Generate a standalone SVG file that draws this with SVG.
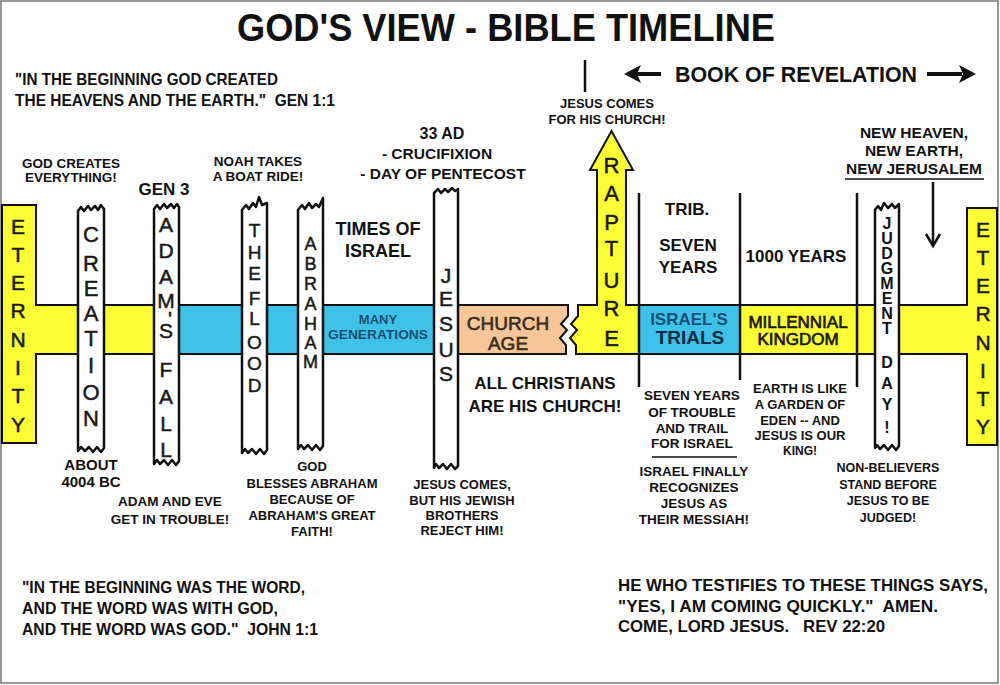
<svg xmlns="http://www.w3.org/2000/svg" width="1000" height="685" viewBox="0 0 1000 685">
<style>
text{font-family:"Liberation Sans",Arial,Helvetica,sans-serif}
.t{font-weight:bold;fill:#111;text-anchor:middle}
.q{font-weight:bold;fill:#111}
.v{font-weight:normal;fill:#1a1a1a;text-anchor:middle;stroke:#1a1a1a;stroke-width:0.5}
.col{fill:#fff;stroke:#111;stroke-width:2.5;stroke-linejoin:round}
.yel{fill:#fdfd36;stroke:#111;stroke-width:2}
.cy{fill:#3fc2ea;stroke:#111;stroke-width:2}
.pe{fill:#f6c698;stroke:#111;stroke-width:2}
.ln{stroke:#111;stroke-width:2.5;fill:none}
.thin{stroke:#111;stroke-width:1.5;fill:none}
</style>
<rect x="1" y="1" width="997" height="682" fill="#fff" stroke="#777" stroke-width="1.5"/>

<g id="title">
<text class="t" x="506" y="41" font-size="39" textLength="538" lengthAdjust="spacingAndGlyphs">GOD'S VIEW - BIBLE TIMELINE</text>
</g>

<g id="band">
<path class="yel" d="M2,205 H36 V305 H166 V354 H36 V443 H2 Z"/>
<rect class="cy" x="166" y="305" width="280" height="49"/>
<path class="pe" d="M446,305 H568 V316 L561,324 L567,330 L560,338 L566,345 V354 H446 Z"/>
<path class="yel" d="M578,305 H597 V170 H590 L611.5,131 L633,170 H626 V305 H639 V354 H576 V345 L570,338 L577,330 L571,324 L578,316 Z"/>
<rect class="cy" x="639" y="305" width="101" height="49"/>
<path class="yel" d="M740,305 H967 V208 H997 V445 H967 V354 H740 Z"/>
</g>

<g id="eternity-left">
<text class="v" font-size="21" x="18 18 18 18 18 18 18 18" y="234 262 290 318 347 375 403 432">ETERNITY</text>
</g>

<g id="creation">
<path class="col" d="M78,451 L78,211 L81,207 L84,211 L88,206 L91,210 L95,206 L98,210 L101,205 L104,209 L104,448 L101,452 L97,447 L93,452 L89,447 L85,451 L81,447 L78,451 Z"/>
<text class="v" font-size="22" x="91 91 91 91 91 91 91 91" y="242 271 296 321 346 373 400 426">CREATION</text>
<text class="t" font-size="13.5" x="71" y="168">GOD CREATES</text>
<text class="t" font-size="13.5" x="71" y="182">EVERYTHING!</text>
<text class="t" font-size="15" x="91" y="470">ABOUT</text>
<text class="t" font-size="15" x="91" y="487">4004 BC</text>
</g>

<g id="adams-fall">
<path class="col" d="M154,464 L154,209 L157,205 L160,209 L164,204 L167,208 L171,204 L174,208 L177,204 L179,207 L179,461 L176,465 L172,460 L168,465 L164,460 L160,464 L157,460 L154,464 Z"/>
<text class="v" font-size="21" x="166 166 166 166 170 166 166 166 166 166" y="232 258 284 308 326 338 377 404 431 457">ADAM'SFALL</text>
<text class="t" font-size="17" x="164" y="195">GEN 3</text>
<text class="t" font-size="13.5" x="170" y="506">ADAM AND EVE</text>
<text class="t" font-size="13.5" x="170" y="524">GET IN TROUBLE!</text>
</g>

<g id="flood">
<path class="col" d="M242,453 L242,210 L246,205 L249,209 L253,203 L256,207 L259,197 L262,205 L267,203 L267,450 L264,454 L260,449 L256,454 L252,449 L248,453 L245,449 L242,453 Z"/>
<text class="v" font-size="19" x="254.5 254.5 254.5 254.5 254.5 254.5 254.5 254.5" y="237 259 280 305 325 349 370 392">THEFLOOD</text>
<text class="t" font-size="13.5" x="258" y="166">NOAH TAKES</text>
<text class="t" font-size="13.5" x="258" y="181">A BOAT RIDE!</text>
</g>

<g id="abraham">
<path class="col" d="M298,449 L298,210 L302,205 L305,209 L309,203 L312,208 L316,204 L319,207 L323,198 L323,446 L320,450 L316,445 L312,450 L308,445 L304,449 L301,445 L298,449 Z"/>
<text class="v" font-size="18" x="310.5 310.5 310.5 310.5 310.5 310.5 310.5" y="250 270 290 310 330 349 368">ABRAHAM</text>
<text class="t" font-size="13" x="312" y="471">GOD</text>
<text class="t" font-size="13" x="312" y="488">BLESSES ABRAHAM</text>
<text class="t" font-size="13" x="312" y="504">BECAUSE OF</text>
<text class="t" font-size="13" x="312" y="520">ABRAHAM'S GREAT</text>
<text class="t" font-size="13" x="312" y="536">FAITH!</text>
</g>

<g id="times-of-israel">
<text class="t" font-size="18" x="378" y="235">TIMES OF</text>
<text class="t" font-size="18" x="378" y="257">ISRAEL</text>
<text class="t" font-size="13" x="378" y="324" style="fill:#1b4f72">MANY</text>
<text class="t" font-size="13" x="378" y="339" style="fill:#1b4f72" textLength="100" lengthAdjust="spacingAndGlyphs">GENERATIONS</text>
</g>

<g id="jesus">
<path class="col" d="M434,468 L434,193 L438,189 L441,193 L445,189 L448,192 L452,188 L455,191 L458,189 L458,466 L455,469 L451,464 L447,469 L443,464 L439,468 L436,464 L434,468 Z"/>
<text class="v" font-size="21" x="446 446 446 446 446" y="283 306 331 357 381">JESUS</text>
<text class="t" font-size="16" x="442" y="139">33 AD</text>
<text class="t" font-size="15.5" x="437" y="159">- CRUCIFIXION</text>
<text class="t" font-size="15.5" x="443" y="179">- DAY OF PENTECOST</text>
<text class="t" font-size="13" x="462" y="489">JESUS COMES,</text>
<text class="t" font-size="13" x="462" y="505">BUT HIS JEWISH</text>
<text class="t" font-size="13" x="462" y="520">BROTHERS</text>
<text class="t" font-size="13" x="462" y="535">REJECT HIM!</text>
</g>

<g id="church-age">
<text class="v" font-size="19" x="508" y="330" style="fill:#3a2e22;stroke:#3a2e22;stroke-width:0.6">CHURCH</text>
<text class="v" font-size="19" x="508" y="350" style="fill:#3a2e22;stroke:#3a2e22;stroke-width:0.6">AGE</text>
<text class="t" font-size="17" x="545" y="389">ALL CHRISTIANS</text>
<text class="t" font-size="17" x="545" y="412">ARE HIS CHURCH!</text>
</g>

<g id="rapture">
<text class="v" font-size="22" x="611.5 611.5 611.5 611.5 611.5 611.5 611.5" y="173 201 230 256 288 316 346">RAPTURE</text>
<text class="t" font-size="13" x="607" y="108">JESUS COMES</text>
<text class="t" font-size="13" x="607" y="124">FOR HIS CHURCH!</text>
</g>

<g id="book-of-revelation">
<text class="t" font-size="22" x="796" y="82" textLength="242" lengthAdjust="spacingAndGlyphs">BOOK OF REVELATION</text>
</g>

<g id="tribulation">
<text class="t" font-size="17" x="687" y="215">TRIB.</text>
<text class="t" font-size="17" x="688" y="251">SEVEN</text>
<text class="t" font-size="17" x="688" y="273">YEARS</text>
<text class="t" font-size="17" x="689" y="325" style="fill:#1a5078">ISRAEL'S</text>
<text class="t" font-size="19" x="690" y="344" style="fill:#0e2e46">TRIALS</text>
<text class="t" font-size="13.5" x="692" y="400">SEVEN YEARS</text>
<text class="t" font-size="13.5" x="692" y="417">OF TROUBLE</text>
<text class="t" font-size="13.5" x="692" y="433">AND TRAIL</text>
<text class="t" font-size="13.5" x="692" y="448">FOR ISRAEL</text>
<text class="t" font-size="13.5" x="694" y="476">ISRAEL FINALLY</text>
<text class="t" font-size="13.5" x="694" y="492">RECOGNIZES</text>
<text class="t" font-size="13.5" x="694" y="508">JESUS AS</text>
<text class="t" font-size="13.5" x="694" y="524">THEIR MESSIAH!</text>
</g>

<g id="millennium">
<text class="t" font-size="17" x="796" y="262">1000 YEARS</text>
<text class="v" font-size="17" x="798" y="328" style="stroke-width:0.7">MILLENNIAL</text>
<text class="v" font-size="17" x="798" y="345" style="stroke-width:0.7">KINGDOM</text>
<text class="t" font-size="13" x="800" y="393">EARTH IS LIKE</text>
<text class="t" font-size="13" x="800" y="409">A GARDEN OF</text>
<text class="t" font-size="13" x="800" y="425">EDEN -- AND</text>
<text class="t" font-size="13" x="800" y="440">JESUS IS OUR</text>
<text class="t" font-size="12" x="800" y="455">KING!</text>
</g>

<g id="judgment-day">
<path class="col" d="M875,448 L875,210 L878,206 L881,210 L884,203 L888,208 L892,204 L895,208 L899,204 L899,446 L896,450 L892,445 L888,450 L884,445 L880,449 L877,445 L875,448 Z"/>
<text class="t" font-size="16" x="887 887 887 887 887 887 887 887 887 887 887 887" y="229 244 259 274 289 304 319 334 368 389 410 433">JUDGMENTDAY!</text>
<text class="t" font-size="12.5" x="888" y="472">NON-BELIEVERS</text>
<text class="t" font-size="12.5" x="888" y="489">STAND BEFORE</text>
<text class="t" font-size="12.5" x="888" y="505">JESUS TO BE</text>
<text class="t" font-size="12.5" x="888" y="522">JUDGED!</text>
</g>

<g id="new-jerusalem">
<text class="t" font-size="15.5" x="914" y="138">NEW HEAVEN,</text>
<text class="t" font-size="15.5" x="914" y="156">NEW EARTH,</text>
<text class="t" font-size="15.5" x="914" y="174">NEW JERUSALEM</text>
</g>

<g id="eternity-right">
<text class="v" font-size="21" x="983 983 983 983 983 983 983 983" y="237 265 293 321 350 378 406 434">ETERNITY</text>
</g>

<g id="connectors">
<line class="ln" x1="639" y1="193" x2="639" y2="387"/>
<line class="ln" x1="740" y1="193" x2="740" y2="380"/>
<line class="ln" x1="857" y1="193" x2="857" y2="387"/>
<line class="ln" x1="585" y1="60" x2="585" y2="92"/>
<line class="thin" x1="652" y1="457" x2="737" y2="457"/>
<line class="thin" x1="845" y1="179" x2="984" y2="179"/>
<line class="ln" x1="933" y1="182" x2="933" y2="245"/>
<polyline class="ln" points="926,234 933,246 940,234"/>
<line stroke="#111" stroke-width="4" x1="636" y1="74" x2="661" y2="74"/>
<polygon fill="#111" points="624,74 641,65 637,74 641,83"/>
<line stroke="#111" stroke-width="4" x1="927" y1="74" x2="962" y2="74"/>
<polygon fill="#111" points="976,74 959,65 963,74 959,83"/>
</g>

<g id="quotes">
<text class="q" font-size="16.5" x="15" y="85" textLength="263" lengthAdjust="spacingAndGlyphs">"IN THE BEGINNING GOD CREATED</text>
<text class="q" font-size="16.5" x="15" y="106" textLength="320" lengthAdjust="spacingAndGlyphs" xml:space="preserve">THE HEAVENS AND THE EARTH."  GEN 1:1</text>
<text class="q" font-size="16.5" x="22" y="593" textLength="283" lengthAdjust="spacingAndGlyphs">"IN THE BEGINNING WAS THE WORD,</text>
<text class="q" font-size="16.5" x="22" y="614" textLength="256" lengthAdjust="spacingAndGlyphs">AND THE WORD WAS WITH GOD,</text>
<text class="q" font-size="16.5" x="22" y="635" textLength="296" lengthAdjust="spacingAndGlyphs" xml:space="preserve">AND THE WORD WAS GOD."  JOHN 1:1</text>
<text class="q" font-size="16.5" x="618" y="591" textLength="370" lengthAdjust="spacingAndGlyphs">HE WHO TESTIFIES TO THESE THINGS SAYS,</text>
<text class="q" font-size="16.5" x="618" y="612" textLength="320" lengthAdjust="spacingAndGlyphs" xml:space="preserve">"YES, I AM COMING QUICKLY."  AMEN.</text>
<text class="q" font-size="16.5" x="618" y="632" textLength="267" lengthAdjust="spacingAndGlyphs" xml:space="preserve">COME, LORD JESUS.   REV 22:20</text>
</g>
</svg>
